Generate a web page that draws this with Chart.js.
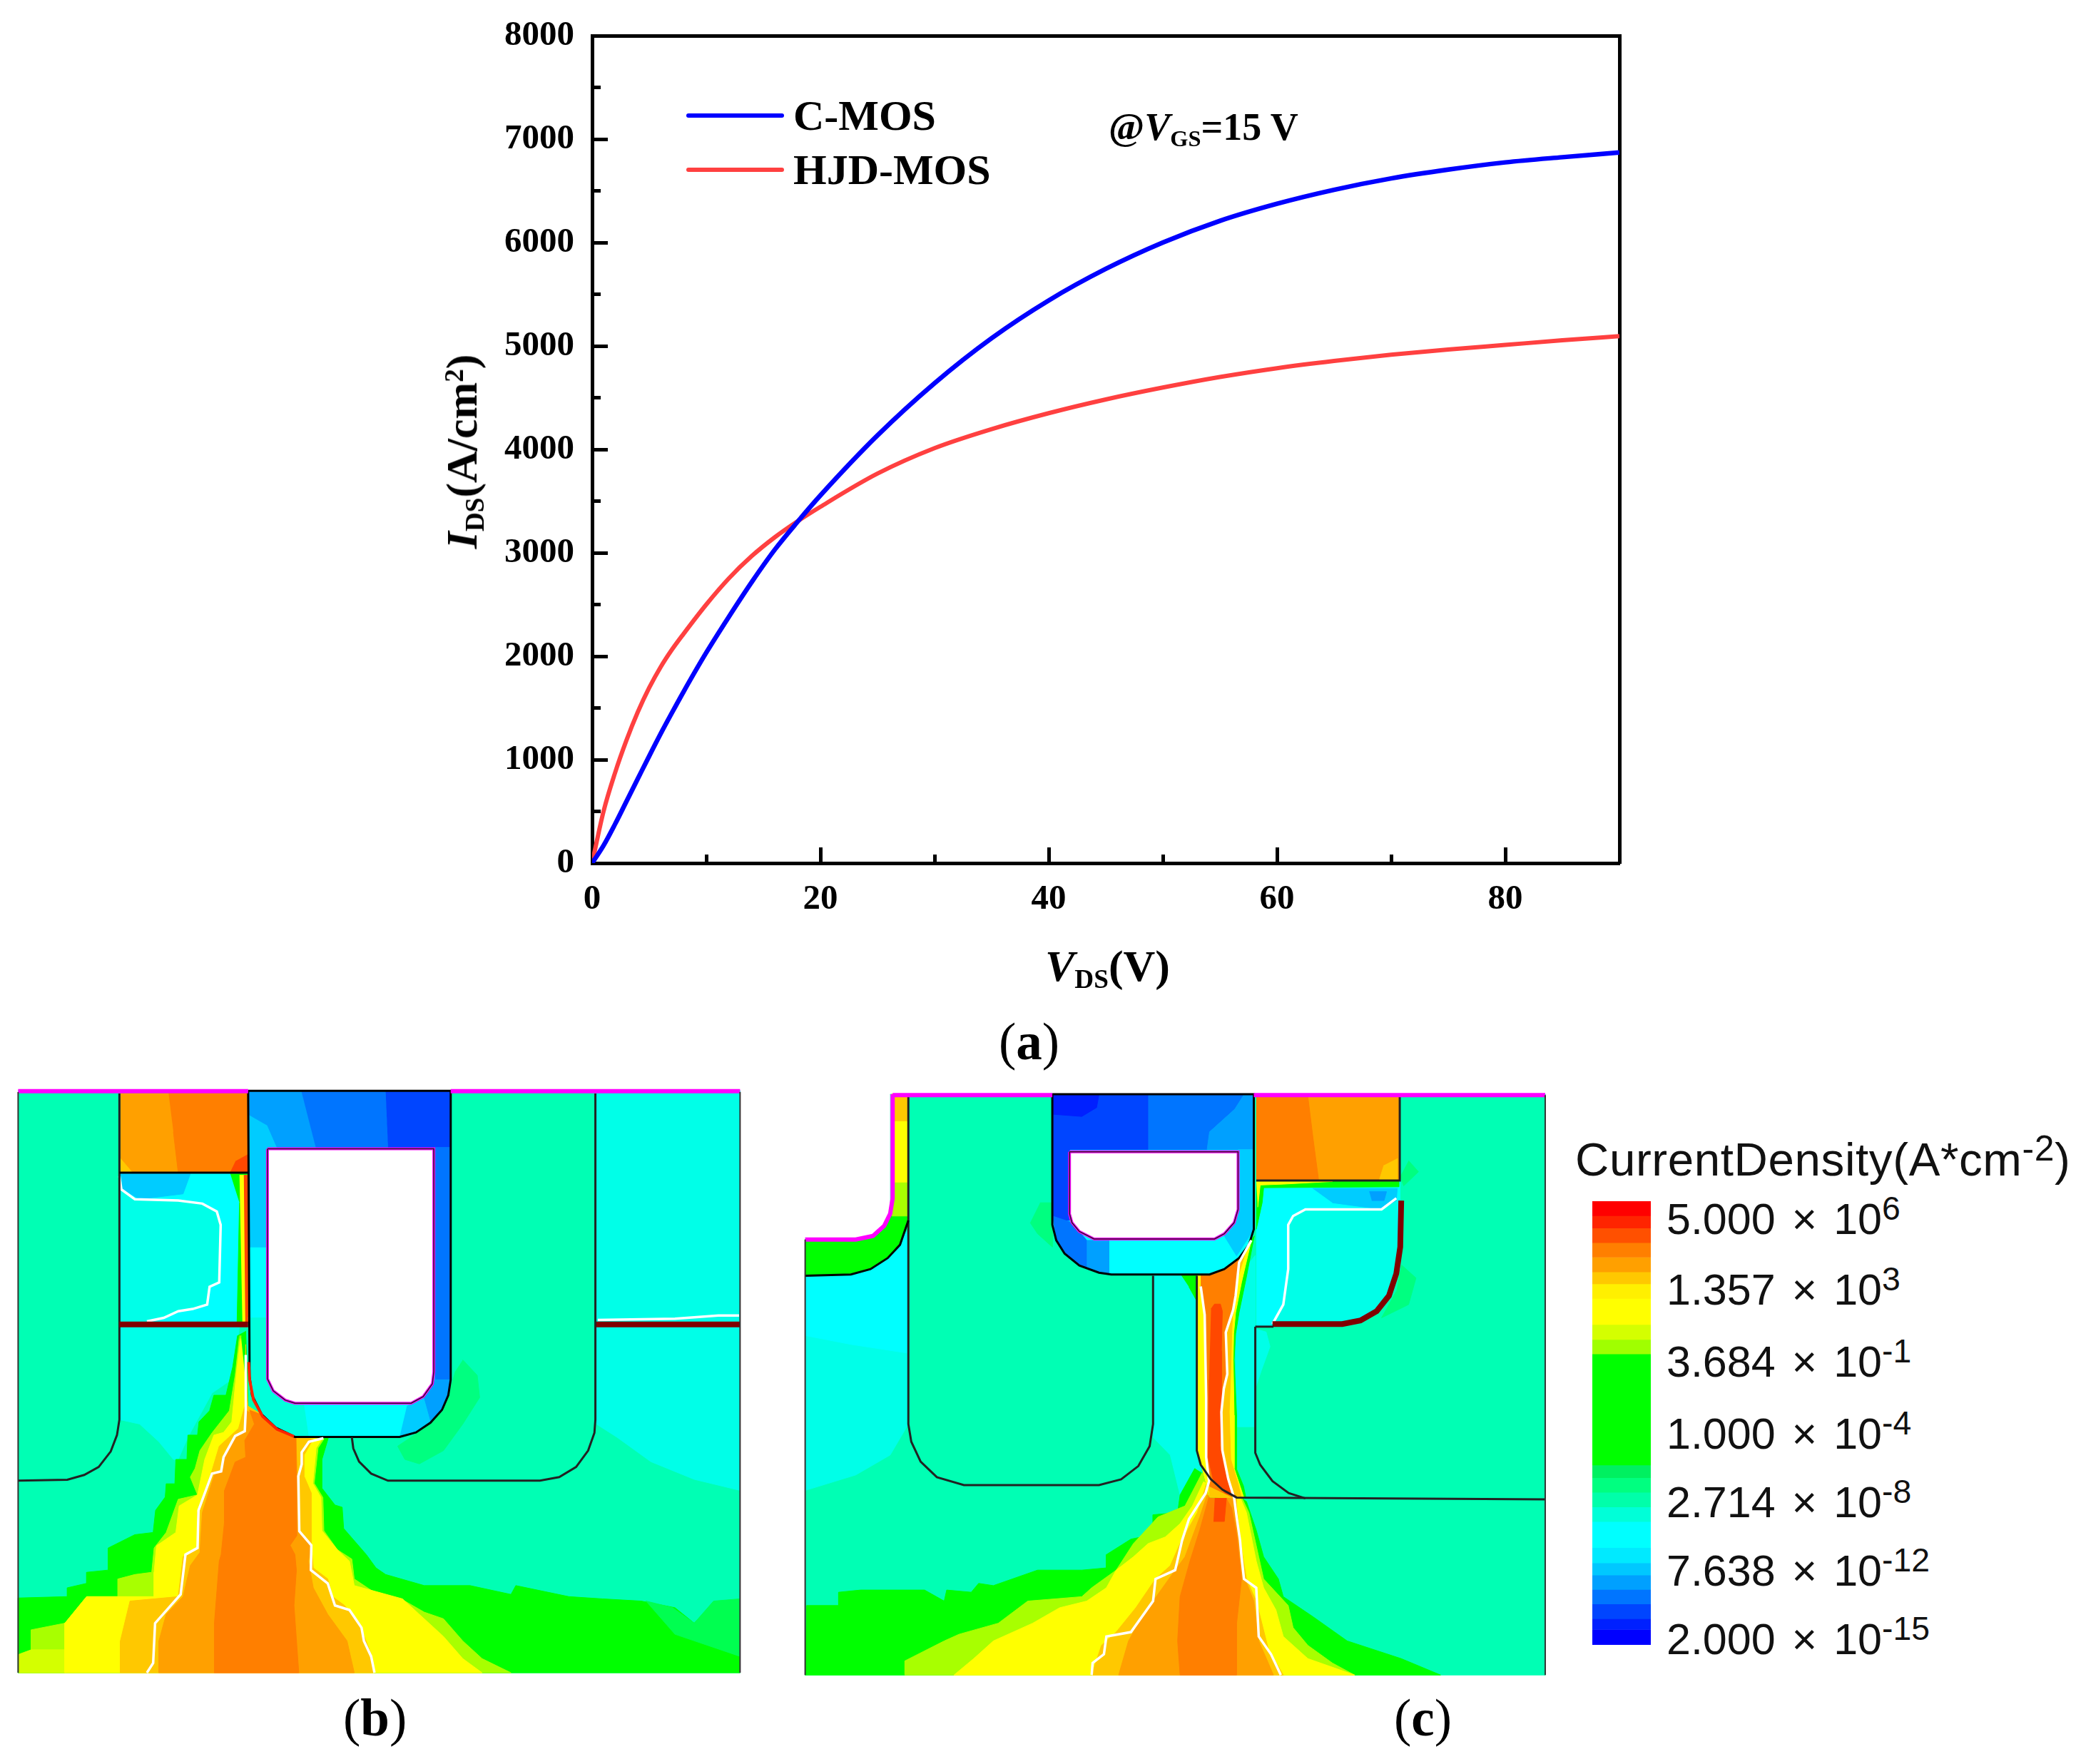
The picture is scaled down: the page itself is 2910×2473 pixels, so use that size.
<!DOCTYPE html>
<html>
<head>
<meta charset="utf-8">
<script src="https://cdn.jsdelivr.net/npm/chart.js@4/dist/chart.umd.min.js"></script>
<style>
html, body { margin: 0; padding: 0; background: #fff; }
#page { position: relative; width: 2910px; height: 2473px; overflow: hidden; }
canvas { position: absolute; display: block; }
.t { position: absolute; white-space: nowrap; line-height: 1; transform: translateY(-50%); color: #000; }
.serif { font-family: "Liberation Serif", serif; font-weight: bold; }
.sans { font-family: "Liberation Sans", Arial, sans-serif; color: #111; }
.t sub, .t sup { line-height: 0; }
.serif sub { font-size: 60%; vertical-align: -0.28em; }
.serif sup { font-size: 60%; vertical-align: 0.5em; }
.sans sup { font-size: 76%; vertical-align: 0.42em; }
.swatch { position: absolute; left: 962px; width: 137px; height: 6px; border-radius: 3px; }
.cap { font-family: "Liberation Serif", serif; font-size: 73px; }
.cap b { font-weight: bold; }
</style>
</head>
<body>
<div id="page">
  <canvas id="chartA" width="2910" height="1430" style="left:0;top:0"></canvas>
  <canvas id="chartB" width="1024" height="825" style="left:20px;top:1525px"></canvas>
  <canvas id="chartC" width="1047" height="830" style="left:1124px;top:1525px"></canvas>
  <canvas id="chartBar" width="82" height="622" style="left:2232px;top:1684px"></canvas>

  <div class="swatch" style="top:159px;background:#0000ff"></div>
  <div class="swatch" style="top:235px;background:#ff4040"></div>
  <div class="t serif" style="left:1112px;top:162px;font-size:60px">C-MOS</div>
  <div class="t serif" style="left:1112px;top:238px;font-size:60px">HJD-MOS</div>
  <div class="t serif" style="left:1554px;top:178px;font-size:54px">@<i>V</i><sub>GS</sub>=15 V</div>
  <div class="t serif" style="left:1465px;top:1354px;font-size:62px"><i>V</i><sub>DS</sub>(V)</div>
  <div class="t serif" style="left:647px;top:633px;font-size:62px;transform:translate(-50%,-50%) rotate(-90deg)"><i>I</i><sub>DS</sub>(A/cm<sup>2</sup>)</div>

  <div class="t cap" style="left:1400px;top:1460px">(<b>a</b>)</div>
  <div class="t cap" style="left:481px;top:2408px">(<b>b</b>)</div>
  <div class="t cap" style="left:1954px;top:2408px">(<b>c</b>)</div>

  <div class="t sans" style="left:2208px;top:1626px;font-size:65.5px;letter-spacing:0.6px">CurrentDensity(A*cm<sup>-2</sup>)</div>
  <div id="barLabels"></div>
</div>

<script>
// (a) output curves
var vds = [0, 1, 2, 3, 4, 5, 6, 7, 8, 10, 12, 14, 16, 18, 20, 25, 30, 35, 40, 45, 50, 55, 60, 65, 70, 75, 80, 85, 90];
var cMos = [0, 170, 375, 595, 815, 1035, 1250, 1455, 1655, 2035, 2385, 2720, 3030, 3300, 3555, 4135, 4640, 5075, 5440, 5745, 6000, 6210, 6375, 6510, 6620, 6705, 6775, 6825, 6870];
var hjdMos = [0, 500, 870, 1185, 1460, 1695, 1895, 2065, 2215, 2500, 2755, 2970, 3150, 3305, 3445, 3766, 4012, 4196, 4350, 4483, 4598, 4700, 4785, 4855, 4915, 4965, 5010, 5055, 5095];
var xTicks = [0, 20, 40, 60, 80];
var xMinorTicks = [10, 30, 50, 70];
var yTicks = [0, 1000, 2000, 3000, 4000, 5000, 6000, 7000, 8000];
var yMinorTicks = [500, 1500, 2500, 3500, 4500, 5500, 6500, 7500];

// colour bar: edges in log10(J), top to bottom
var barEdges = [6.7, 6.0, 5.4, 4.7, 4.0, 3.29, 2.71, 2.01, 0.75, 0.03, -0.67, -6.03, -6.64, -7.34, -8.05, -8.75, -10.01, -10.75, -11.33, -12.03, -12.73, -13.44, -13.96, -14.7];
var barColors = ['#ff0000', '#ff2400', '#ff5000', '#ff7f00', '#ffa000', '#ffc800', '#fff000', '#ffff00', '#d4ff00', '#a0ff00', '#00ff00', '#00f060', '#00ff80', '#00ffaa', '#00ffd8', '#00ffff', '#00eaff', '#00c8ff', '#00a0ff', '#0075ff', '#0045ff', '#0020ff', '#0000ff'];
var barMantissa = ['5.000', '1.357', '3.684', '1.000', '2.714', '7.638', '2.000'];
var barExponent = ['6', '3', '-1', '-4', '-8', '-12', '-15'];

// (b) device cross-section outlines, in the section's own x/y units
var bBase = [[38, 47], [1535, 47], [1535, 1362], [38, 1362]];
var bCyanRight = [[1237, 53], [1535, 53], [1535, 950], [1440, 925], [1350, 885], [1280, 830], [1237, 800]];
var bCyanCell = [[248, 232], [515, 232], [515, 570], [248, 570]];
var bCyanLow = [[248, 580], [497, 580], [480, 700], [440, 730], [410, 790], [390, 830], [370, 880], [360, 880], [330, 840], [290, 800], [248, 790]];
var bGreen = [[493, 600], [483, 671], [469, 735], [444, 735], [435, 770], [413, 795], [410, 825], [390, 825], [388, 880], [365, 880], [363, 935], [345, 935], [343, 965], [323, 995], [318, 1045], [280, 1050], [225, 1080], [225, 1130], [180, 1135], [180, 1160], [140, 1170], [140, 1190], [38, 1193], [38, 1362], [1535, 1362], [1535, 1200], [1480, 1205], [1440, 1250], [1400, 1215], [1330, 1200], [1250, 1195], [1180, 1190], [1070, 1165], [1060, 1185], [975, 1165], [880, 1165], [800, 1140], [780, 1125], [760, 1095], [713, 1036], [710, 988], [695, 983], [668, 945], [668, 880], [681, 832], [620, 830], [515, 760], [510, 590]];
var bGreenEdge = [[1535, 1195], [1480, 1200], [1440, 1250], [1395, 1215], [1340, 1200], [1400, 1275], [1535, 1325]];
var bLime = [[497, 600], [488, 690], [476, 770], [440, 820], [415, 860], [405, 900], [395, 920], [410, 960], [370, 970], [345, 1045], [320, 1080], [315, 1135], [280, 1140], [245, 1150], [245, 1190], [180, 1190], [135, 1250], [65, 1265], [65, 1310], [40, 1320], [40, 1362], [1060, 1362], [1000, 1330], [960, 1290], [920, 1240], [880, 1225], [840, 1200], [790, 1190], [735, 1150], [730, 1105], [700, 1084], [672, 1041], [670, 966], [652, 934], [660, 854], [672, 834], [620, 830], [515, 760]];
var bLimeLow = [[65, 1310], [135, 1310], [135, 1362], [40, 1362], [40, 1320]];
var bYellow = [[500, 600], [491, 682], [481, 795], [464, 819], [444, 825], [425, 880], [410, 960], [372, 985], [365, 1045], [325, 1075], [320, 1135], [320, 1190], [180, 1190], [135, 1250], [135, 1362], [1000, 1362], [960, 1330], [920, 1280], [870, 1230], [835, 1195], [735, 1165], [725, 1110], [700, 1084], [668, 1041], [666, 966], [649, 934], [656, 854], [668, 834], [620, 830], [515, 760]];
var bGold = [[510, 620], [508, 760], [495, 810], [455, 850], [440, 905], [410, 1000], [410, 1080], [380, 1100], [370, 1190], [270, 1200], [250, 1290], [250, 1362], [775, 1362], [770, 1320], [745, 1250], [715, 1210], [690, 1190], [680, 1150], [650, 1125], [646, 1074], [646, 956], [631, 918], [631, 870], [650, 834], [620, 830], [515, 760]];
var bAmber = [[510, 768], [508, 816], [488, 827], [464, 875], [459, 907], [445, 915], [420, 1000], [415, 1090], [395, 1120], [380, 1190], [345, 1230], [330, 1290], [330, 1362], [735, 1362], [720, 1290], [680, 1230], [650, 1170], [640, 1110], [646, 1074], [621, 1042], [616, 900], [614, 830], [560, 810], [530, 780]];
var bOrange = [[518, 768], [528, 800], [508, 837], [510, 875], [488, 886], [466, 950], [466, 1020], [459, 1095], [455, 1110], [445, 1250], [445, 1362], [620, 1362], [610, 1210], [615, 1130], [612, 1095], [602, 1074], [616, 1052], [614, 829], [572, 808], [543, 778]];
var bSourceAmber = [[250, 53], [515, 53], [515, 232], [250, 232]];
var bSourceOrange = [[350, 53], [515, 53], [515, 232], [370, 232], [360, 140]];
var bSourceGold = [[250, 200], [275, 232], [250, 232]];
var bSourceRed = [[515, 190], [515, 232], [478, 232], [490, 205]];
var bCellTop = [[248, 235], [515, 235], [515, 570], [248, 570]];
var bCellBlue = [[250, 235], [395, 235], [380, 280], [290, 292], [255, 270]];
var bCellInner = [[248, 245], [252, 270], [280, 292], [370, 295], [420, 302], [450, 320], [458, 350], [455, 480], [435, 490], [430, 530], [400, 540], [370, 545], [340, 560], [305, 568], [248, 568]];
var bCellGreen = [[478, 235], [515, 235], [515, 570], [492, 570], [497, 300]];
var bCellYellow = [[497, 238], [515, 238], [515, 570], [503, 570]];
var bCellRed = [[506, 238], [515, 238], [515, 570], [509, 570]];
var bHalo = [[960, 655], [990, 690], [995, 740], [960, 800], [920, 860], [870, 890], [840, 880], [825, 850], [880, 810], [920, 770], [937, 710], [945, 680]];
var bTrench = [[515, 47], [935, 47], [935, 700], [930, 735], [917, 768], [893, 797], [863, 819], [829, 829], [612, 829], [572, 808], [543, 778], [523, 735], [518, 692]];
var bTrenchA = [[515, 47], [625, 47], [655, 175], [575, 175], [555, 125], [515, 100]];
var bTrenchB = [[625, 47], [800, 47], [805, 175], [655, 175]];
var bTrenchC = [[800, 47], [935, 47], [935, 175], [805, 175]];
var bTrenchD = [[902, 175], [935, 175], [935, 700], [902, 700]];
var bTrenchE = [[902, 700], [935, 700], [930, 735], [917, 768], [893, 797], [878, 738]];
var bTrenchF = [[844, 760], [878, 738], [893, 797], [863, 819], [829, 829]];
var bTrenchG = [[515, 100], [555, 125], [575, 175], [555, 180], [555, 400], [515, 400]];
var bTrenchH = [[515, 560], [555, 560], [555, 698], [567, 725], [592, 746], [630, 755], [640, 829], [612, 829], [572, 808], [543, 778], [523, 735], [518, 692]];
var bOxide = [[555, 178], [900, 178], [900, 682], [897, 709], [878, 738], [853, 753], [612, 753], [592, 746], [567, 725], [555, 698], [555, 178]];
var bWallRed = [[516, 660], [518, 700], [526, 745], [545, 783], [575, 812], [610, 828]];
var bWhiteLeft = [[510, 644], [510, 768], [508, 816], [488, 827], [464, 875], [459, 907], [440, 912], [412, 995], [410, 1080], [385, 1095], [375, 1185], [322, 1250], [318, 1340], [305, 1362]];
var bWhiteRight = [[671, 832], [641, 840], [626, 864], [626, 891], [619, 918], [621, 1042], [646, 1074], [645, 1130], [680, 1160], [695, 1210], [725, 1220], [750, 1260], [755, 1290], [770, 1325], [777, 1362]];
var bWhiteCell = [[248, 240], [252, 270], [280, 292], [370, 295], [420, 302], [450, 320], [458, 350], [455, 480], [435, 490], [430, 530], [400, 540], [370, 545], [340, 560], [305, 568]];
var bWhiteRightCell = [[1240, 565], [1400, 562], [1490, 555], [1533, 555]];
var bWellLeft = [[248, 53], [248, 790], [243, 825], [230, 862], [205, 897], [175, 915], [140, 926], [38, 928]];
var bWellRight = [[730, 830], [733, 855], [745, 885], [770, 912], [805, 928], [1120, 928], [1160, 920], [1195, 897], [1220, 860], [1233, 820], [1235, 790], [1235, 53]];
var bSourceLine = [[248, 232], [515, 232]];
var bBarLeft = [[248, 575], [515, 575]];
var bBarRight = [[1237, 575], [1535, 575]];
var bMetalLeft = [[38, 48], [515, 48]];
var bMetalRight = [[935, 48], [1535, 48]];
var bSideLeft = [[38, 50], [38, 1362]];
var bSideRight = [[1535, 50], [1535, 1362]];

// (c) device cross-section outlines
var cBase = [[200, 55], [1533, 55], [1533, 1367], [27, 1367], [27, 383], [130, 383], [165, 375], [188, 352], [200, 325]];
var cCyanLeft = [[27, 465], [120, 462], [160, 450], [195, 425], [220, 395], [237, 360], [237, 800], [200, 870], [130, 915], [27, 950]];
var cCyanLeftTop = [[27, 465], [120, 462], [160, 450], [195, 425], [237, 360], [237, 640], [120, 620], [27, 600]];
var cGreenBlock = [[27, 385], [130, 385], [165, 375], [188, 352], [205, 315], [237, 315], [237, 340], [220, 395], [195, 425], [160, 450], [120, 462], [27, 465]];
var cStripYellow = [[203, 55], [237, 55], [237, 260], [203, 260]];
var cStripGold = [[203, 55], [237, 55], [237, 115], [203, 115]];
var cStripLime = [[203, 255], [237, 255], [237, 330], [203, 330]];
var cMesaCyan = [[735, 465], [825, 465], [825, 860], [835, 900], [790, 960], [770, 870], [735, 830]];
var cPillarCyan = [[900, 480], [943, 419], [943, 806], [905, 806]];
var cPillarCyan2 = [[943, 585], [965, 592], [973, 625], [955, 680], [943, 720]];
var cCell = [[945, 250], [1237, 250], [1237, 450], [1200, 540], [1130, 575], [945, 580]];
var cCellInner = [[975, 578], [1000, 530], [1010, 450], [1010, 350], [1020, 330], [1045, 315], [1200, 315], [1230, 290], [1232, 450], [1195, 535], [1130, 570]];
var cCellBlue = [[1060, 268], [1232, 268], [1230, 295], [1200, 315], [1100, 300]];
var cCellBlueDark = [[1175, 275], [1210, 275], [1205, 295], [1180, 295]];
var cCellTopEdge = [[945, 252], [1235, 252], [1235, 264], [960, 266], [957, 300], [945, 360]];
var cCellTopYellow = [[945, 252], [1100, 252], [1000, 258], [953, 260], [948, 310]];
var cSourceAmber = [[945, 60], [1237, 60], [1237, 250], [945, 250]];
var cSourceOrange = [[945, 60], [1050, 60], [1060, 150], [1072, 250], [945, 250]];
var cSourceGold = [[1232, 200], [1232, 250], [1195, 250], [1205, 215]];
var cHaloA = [[1240, 440], [1270, 470], [1255, 530], [1200, 560], [1230, 500]];
var cHaloB = [[505, 300], [530, 300], [530, 400], [500, 370], [485, 345]];
var cHaloC = [[1255, 205], [1275, 230], [1245, 262], [1238, 240]];
var cGreen = [[820, 900], [790, 960], [785, 1000], [735, 1005], [735, 1050], [690, 1060], [640, 1095], [640, 1125], [590, 1130], [500, 1130], [410, 1165], [380, 1160], [365, 1180], [315, 1175], [310, 1200], [270, 1175], [140, 1175], [95, 1180], [95, 1210], [30, 1210], [27, 1367], [1320, 1367], [1240, 1330], [1130, 1290], [1060, 1235], [1000, 1190], [990, 1150], [960, 1100], [945, 1040], [925, 975], [905, 960]];
var cLime = [[835, 910], [800, 985], [745, 1010], [695, 1070], [660, 1130], [610, 1170], [590, 1190], [480, 1200], [420, 1250], [340, 1275], [310, 1290], [230, 1335], [230, 1367], [1145, 1367], [1100, 1340], [1050, 1300], [1020, 1260], [1010, 1210], [960, 1150], [950, 1100], [930, 1000], [915, 965]];
var cYellow = [[838, 930], [815, 985], [790, 1025], [760, 1055], [725, 1070], [695, 1100], [660, 1130], [640, 1170], [600, 1200], [545, 1215], [490, 1250], [410, 1290], [370, 1330], [330, 1367], [1145, 1367], [1050, 1330], [1000, 1280], [985, 1220], [960, 1170], [945, 1110], [925, 1000], [910, 960]];
var cGold = [[845, 930], [825, 1000], [790, 1070], [770, 1120], [740, 1150], [700, 1215], [660, 1270], [630, 1300], [610, 1367], [1000, 1367], [970, 1310], [945, 1200], [925, 1150], [915, 1080], [905, 990], [905, 960]];
var cAmber = [[845, 960], [830, 1010], [800, 1100], [780, 1130], [735, 1200], [705, 1250], [685, 1290], [665, 1367], [980, 1367], [950, 1290], [940, 1200], [915, 1130], [910, 1050], [905, 990], [900, 960]];
var cOrange = [[850, 960], [830, 1040], [810, 1110], [790, 1190], [785, 1290], [790, 1367], [905, 1367], [905, 1250], [915, 1150], [905, 1050], [895, 990], [880, 960]];
var cCoreRed = [[861, 956], [885, 956], [880, 1020], [858, 1020]];
var cWedgeGreen = [[790, 460], [828, 462], [828, 530], [808, 490]];
var cPillarOuter = [[825, 462], [860, 458], [900, 435], [941, 375], [924, 473], [910, 548], [903, 596], [900, 655], [905, 780], [905, 902], [919, 940], [924, 967], [850, 965], [835, 900], [825, 860]];
var cPillarYellow = [[825, 462], [860, 458], [900, 435], [935, 385], [915, 480], [903, 548], [899, 596], [898, 655], [900, 780], [900, 900], [912, 940], [920, 967], [850, 965], [835, 900], [825, 860]];
var cPillarAmber = [[832, 462], [860, 458], [900, 435], [925, 405], [905, 480], [897, 548], [895, 600], [893, 687], [890, 773], [893, 880], [908, 935], [915, 967], [850, 965], [845, 880], [843, 741], [840, 553], [832, 489]];
var cPillarOrange = [[832, 462], [860, 458], [900, 435], [925, 405], [910, 435], [903, 510], [898, 542], [883, 593], [886, 687], [879, 720], [874, 773], [876, 859], [881, 886], [888, 924], [900, 967], [849, 940], [843, 875], [843, 741], [840, 553], [832, 489]];
var cPillarRed = [[853, 540], [860, 529], [872, 529], [876, 545], [874, 634], [874, 773], [871, 849], [878, 892], [890, 945], [905, 965], [881, 956], [857, 924], [847, 875], [849, 700]];
var cTrench = [[530, 55], [940, 55], [940, 360], [930, 395], [910, 425], [880, 450], [850, 462], [650, 462], [625, 458], [585, 442], [555, 415], [538, 385], [530, 350]];
var cTrenchA = [[530, 55], [725, 55], [725, 180], [565, 180], [565, 340], [530, 340]];
var cTrenchB = [[530, 55], [625, 55], [620, 85], [590, 105], [530, 100]];
var cTrenchC = [[725, 55], [920, 55], [900, 90], [850, 140], [845, 180], [725, 180]];
var cTrenchD = [[920, 55], [940, 55], [940, 180], [845, 180], [850, 140], [900, 90]];
var cTrenchE = [[908, 180], [940, 180], [940, 360], [905, 420], [880, 375], [908, 330]];
var cTrenchF = [[530, 330], [570, 345], [600, 385], [600, 448], [585, 442], [555, 415], [538, 385]];
var cTrenchG = [[600, 385], [645, 385], [645, 460], [625, 458], [600, 448]];
var cOxide = [[565, 185], [908, 185], [908, 315], [900, 345], [880, 370], [860, 382], [615, 382], [585, 365], [570, 345], [565, 325], [565, 185]];
var cWhiteLeft = [[832, 489], [840, 553], [843, 741], [843, 875], [849, 929], [842, 956], [808, 1015], [794, 1063], [780, 1130], [740, 1150], [735, 1200], [690, 1270], [640, 1280], [635, 1320], [612, 1340], [610, 1367]];
var cWhiteRight = [[935, 385], [910, 435], [903, 510], [898, 542], [883, 593], [886, 687], [879, 720], [874, 773], [876, 859], [881, 886], [888, 924], [900, 967], [905, 1010], [912, 1063], [915, 1100], [920, 1150], [945, 1170], [950, 1280], [975, 1320], [995, 1367]];
var cWhiteCell = [[978, 574], [1000, 530], [1010, 450], [1010, 350], [1020, 330], [1045, 315], [1200, 315], [1230, 290]];
var cDarkCell = [[978, 574], [1120, 574], [1157, 566], [1190, 545], [1215, 510], [1230, 460], [1238, 400], [1240, 295]];
var cWellLeft = [[237, 60], [237, 800], [243, 840], [262, 885], [295, 920], [350, 938], [625, 938], [670, 925], [705, 895], [728, 850], [735, 800], [735, 465]];
var cWellMid = [[824, 465], [824, 860], [832, 892], [852, 924], [876, 948], [905, 966], [1533, 970]];
var cWellRight = [[943, 580], [943, 865], [953, 892], [978, 929], [1011, 956], [1045, 968]];
var cSourceBottom = [[945, 250], [1237, 250], [1237, 60]];
var cCellBottom = [[943, 580], [980, 580]];
var cGreenEdge = [[27, 465], [120, 462], [160, 450], [195, 425], [220, 395], [237, 340]];
var cMetalTop = [[205, 57], [530, 57]];
var cMetalRight = [[940, 57], [1533, 57]];
var cNotch = [[205, 55], [205, 290], [200, 325], [188, 352], [165, 375], [130, 383], [27, 383]];
var cSideLeft = [[27, 383], [27, 1367]];
var cSideRight = [[1533, 57], [1533, 1367]];

var MINT = '#00ffb4', CYAN1 = '#00ffdc', CYAN2 = '#00ffff', CYAN3 = '#00ffe8', HALO = '#00ff80', GREEN = '#00ff00', GREEN2 = '#00ff50';
var LIME = '#a8ff00', LIME2 = '#d4ff00', YELLOW = '#ffff00', GOLD = '#ffc800', AMBER = '#ffa000', ORANGE = '#ff7f00', RED = '#ff4800';
var B1 = '#00ccff', B2 = '#00a0ff', B3 = '#0075ff', B4 = '#0045ff', B5 = '#0020ff';

function pts(arr) {
    return arr.map(function(p) { return {x: p[0], y: p[1]}; });
}

// filled region; later list entries paint over earlier ones
function region(arr, color) {
    return {data: pts(arr), showLine: true, fill: 'shape', backgroundColor: color, borderColor: color, borderWidth: 1, pointRadius: 0};
}

function stroke(arr, color, width) {
    return {data: pts(arr), showLine: true, fill: false, borderColor: color, borderWidth: width, pointRadius: 0};
}

function sectionChart(id, xr, yr, layers) {
    layers.forEach(function(d, i) { d.order = -i; });
    return new Chart(document.getElementById(id), {
        type: 'scatter',
        data: {datasets: layers},
        options: {
            responsive: false,
            animation: false,
            events: [],
            layout: {padding: 0},
            plugins: {legend: {display: false}, tooltip: {enabled: false}},
            scales: {
                x: {type: 'linear', display: false, min: xr[0], max: xr[1]},
                y: {type: 'linear', display: false, reverse: true, min: yr[0], max: yr[1]}
            }
        }
    });
}

function tickList(list) {
    return function(s) { s.ticks = list.map(function(v) { return {value: v}; }); };
}

window.addEventListener('load', function() {
    var TIMES = '"Liberation Serif", serif';
    var plain = function(v) { return String(v); };

    // hidden-label helper axes carry the box sides and the short ticks
    new Chart(document.getElementById('chartA'), {
        type: 'line',
        data: {
            labels: vds,
            datasets: [
                {label: 'C-MOS', data: vds.map(function(v, i) { return {x: v, y: cMos[i]}; }), borderColor: '#0000ff', borderWidth: 6.5, pointRadius: 0, cubicInterpolationMode: 'monotone'},
                {label: 'HJD-MOS', data: vds.map(function(v, i) { return {x: v, y: hjdMos[i]}; }), borderColor: '#ff4040', borderWidth: 6, pointRadius: 0, cubicInterpolationMode: 'monotone'}
            ]
        },
        options: {
            responsive: false,
            animation: false,
            events: [],
            layout: {padding: {left: 0, right: 640, top: 50, bottom: 0}},
            plugins: {legend: {display: false}, tooltip: {enabled: false}},
            scales: {
                x: {
                    type: 'linear', position: 'bottom', min: 0, max: 90,
                    afterFit: function(s) { s.height = 220; s.paddingLeft = 0; s.paddingRight = 0; },
                    afterBuildTicks: tickList(xTicks),
                    grid: {drawOnChartArea: false, tickLength: -22, tickWidth: 5, tickColor: '#000'},
                    border: {color: '#000', width: 5},
                    ticks: {callback: plain, color: '#000', font: {family: TIMES, size: 49, weight: 'bold'}, padding: 44, maxRotation: 0, autoSkip: false}
                },
                y: {
                    type: 'linear', position: 'left', min: 0, max: 8000,
                    afterFit: function(s) { s.width = 830; s.paddingTop = 0; s.paddingBottom = 0; },
                    afterBuildTicks: tickList(yTicks),
                    grid: {drawOnChartArea: false, tickLength: -22, tickWidth: 5, tickColor: '#000'},
                    border: {color: '#000', width: 5},
                    ticks: {callback: plain, color: '#000', font: {family: TIMES, size: 49, weight: 'bold'}, padding: 47, autoSkip: false}
                },
                xMinor: {
                    type: 'linear', axis: 'x', position: {y: 0}, min: 0, max: 90,
                    afterBuildTicks: tickList(xMinorTicks),
                    grid: {drawOnChartArea: false, tickLength: -12, tickWidth: 5, tickColor: '#000'},
                    border: {display: false},
                    ticks: {display: false}
                },
                yMinor: {
                    type: 'linear', axis: 'y', position: {x: 0}, min: 0, max: 8000,
                    afterBuildTicks: tickList(yMinorTicks),
                    grid: {drawOnChartArea: false, tickLength: -12, tickWidth: 5, tickColor: '#000'},
                    border: {display: false},
                    ticks: {display: false}
                },
                xTop: {
                    type: 'linear', axis: 'x', position: 'top', min: 0, max: 90,
                    afterFit: function(s) { s.height = 0; },
                    grid: {drawOnChartArea: false, drawTicks: false},
                    border: {color: '#000', width: 5},
                    ticks: {display: false}
                },
                yRight: {
                    type: 'linear', axis: 'y', position: 'right', min: 0, max: 8000,
                    afterFit: function(s) { s.width = 0; },
                    grid: {drawOnChartArea: false, drawTicks: false},
                    border: {color: '#000', width: 5},
                    ticks: {display: false}
                }
            }
        }
    });

    sectionChart('chartB', [30, 1544.8], [40.3, 1369.9], [
        region(bBase, MINT),
        region(bCyanRight, CYAN3),
        region(bCyanLow, CYAN3),
        region(bGreen, GREEN),
        region(bGreenEdge, GREEN2),
        region(bLime, LIME),
        region(bLimeLow, LIME2),
        region(bYellow, YELLOW),
        region(bGold, GOLD),
        region(bAmber, AMBER),
        region(bOrange, ORANGE),
        region(bHalo, HALO),
        region(bSourceAmber, AMBER),
        region(bSourceOrange, ORANGE),
        region(bSourceGold, GOLD),
        region(bSourceRed, RED),
        region(bCyanCell, CYAN2),
        region(bCellTop, CYAN2),
        region(bCellBlue, B1),
        region(bCellInner, CYAN3),
        region(bCellGreen, GREEN),
        region(bCellYellow, YELLOW),
        region(bCellRed, RED),
        region(bTrench, CYAN2),
        region(bTrenchH, CYAN1),
        region(bTrenchG, B1),
        region(bTrenchA, B2),
        region(bTrenchB, B3),
        region(bTrenchC, B4),
        region(bTrenchD, B3),
        region(bTrenchE, B2),
        region(bTrenchF, B1),
        stroke(bTrench.concat([bTrench[0]]), '#000', 3),
        region(bOxide, '#ffffff'),
        stroke(bOxide, '#ff00ff', 4),
        stroke(bOxide, '#222', 1.5),
        stroke(bWallRed, '#ff2400', 4),
        stroke(bWhiteLeft, '#ffffff', 3.5),
        stroke(bWhiteRight, '#ffffff', 3.5),
        stroke(bWhiteCell, '#ffffff', 3.5),
        stroke(bWhiteRightCell, '#ffffff', 3.5),
        stroke(bWellLeft, '#222', 3),
        stroke(bWellRight, '#222', 3),
        stroke(bSourceLine, '#000', 3),
        stroke(bBarLeft, '#800000', 8),
        stroke(bBarRight, '#800000', 8),
        stroke(bMetalLeft, '#ff00ff', 6),
        stroke(bMetalRight, '#ff00ff', 6),
        stroke(bSideLeft, '#333', 2),
        stroke(bSideRight, '#333', 2)
    ]);

    sectionChart('chartC', [20.3, 1540.3], [40.3, 1377.9], [
        region(cBase, MINT),
        region(cCyanLeft, CYAN3),
        region(cCyanLeftTop, CYAN2),
        region(cGreenBlock, GREEN),
        region(cStripYellow, YELLOW),
        region(cStripGold, GOLD),
        region(cStripLime, LIME),
        region(cMesaCyan, CYAN3),
        region(cPillarCyan, CYAN3),
        region(cPillarCyan2, CYAN3),
        region(cHaloA, HALO),
        region(cHaloB, HALO),
        region(cHaloC, HALO),
        region(cGreen, GREEN),
        region(cLime, LIME),
        region(cYellow, YELLOW),
        region(cGold, GOLD),
        region(cAmber, AMBER),
        region(cOrange, ORANGE),
        region(cCoreRed, RED),
        region(cWedgeGreen, GREEN),
        region(cPillarOuter, GREEN),
        region(cPillarYellow, YELLOW),
        region(cPillarAmber, GOLD),
        region(cPillarOrange, ORANGE),
        region(cPillarRed, RED),
        region(cCell, CYAN2),
        region(cCellInner, CYAN3),
        region(cCellBlue, B1),
        region(cCellBlueDark, B2),
        region(cCellTopEdge, GREEN),
        region(cCellTopYellow, YELLOW),
        region(cSourceAmber, AMBER),
        region(cSourceOrange, ORANGE),
        region(cSourceGold, GOLD),
        region(cTrench, CYAN2),
        region(cTrenchA, B4),
        region(cTrenchB, B5),
        region(cTrenchC, B3),
        region(cTrenchD, B2),
        region(cTrenchE, B1),
        region(cTrenchF, B3),
        region(cTrenchG, B2),
        stroke(cTrench.concat([cTrench[0]]), '#000', 3),
        region(cOxide, '#ffffff'),
        stroke(cOxide, '#ff00ff', 4),
        stroke(cOxide, '#222', 1.5),
        stroke(cWhiteLeft, '#ffffff', 3.5),
        stroke(cWhiteRight, '#ffffff', 3.5),
        stroke(cWhiteCell, '#ffffff', 3.5),
        stroke(cDarkCell, '#800000', 8),
        stroke(cWellLeft, '#222', 3),
        stroke(cWellMid, '#222', 3),
        stroke(cWellRight, '#222', 3),
        stroke(cSourceBottom, '#222', 3),
        stroke(cCellBottom, '#222', 3),
        stroke(cGreenEdge, '#000', 3),
        stroke(cMetalTop, '#ff00ff', 6),
        stroke(cMetalRight, '#ff00ff', 6),
        stroke(cNotch, '#ff00ff', 6),
        stroke(cSideLeft, '#333', 2),
        stroke(cSideRight, '#333', 2)
    ]);

    // colour bar as floating bars on a log10 axis
    var bands = [];
    for (var i = 0; i < barColors.length; i++) {
        bands.push({data: [[barEdges[i + 1], barEdges[i]]], backgroundColor: barColors[i], barPercentage: 1, categoryPercentage: 1, borderWidth: 0});
    }
    new Chart(document.getElementById('chartBar'), {
        type: 'bar',
        data: {labels: ['J'], datasets: bands},
        options: {
            responsive: false,
            animation: false,
            events: [],
            layout: {padding: 0},
            plugins: {legend: {display: false}, tooltip: {enabled: false}},
            scales: {
                x: {display: false, stacked: true},
                y: {display: false, min: -14.7, max: 6.7}
            }
        }
    });

    var labelBox = document.getElementById('barLabels');
    var labelTops = [1709, 1808, 1909, 2010, 2106, 2202, 2298];
    barMantissa.forEach(function(m, i) {
        var el = document.createElement('div');
        el.className = 't sans';
        el.style.left = '2336px';
        el.style.top = labelTops[i] + 'px';
        el.style.fontSize = '61px';
        el.style.wordSpacing = '6px';
        el.innerHTML = m + ' \u00d7 10<sup>' + barExponent[i] + '</sup>';
        labelBox.appendChild(el);
    });
});
</script>
</body>
</html>
